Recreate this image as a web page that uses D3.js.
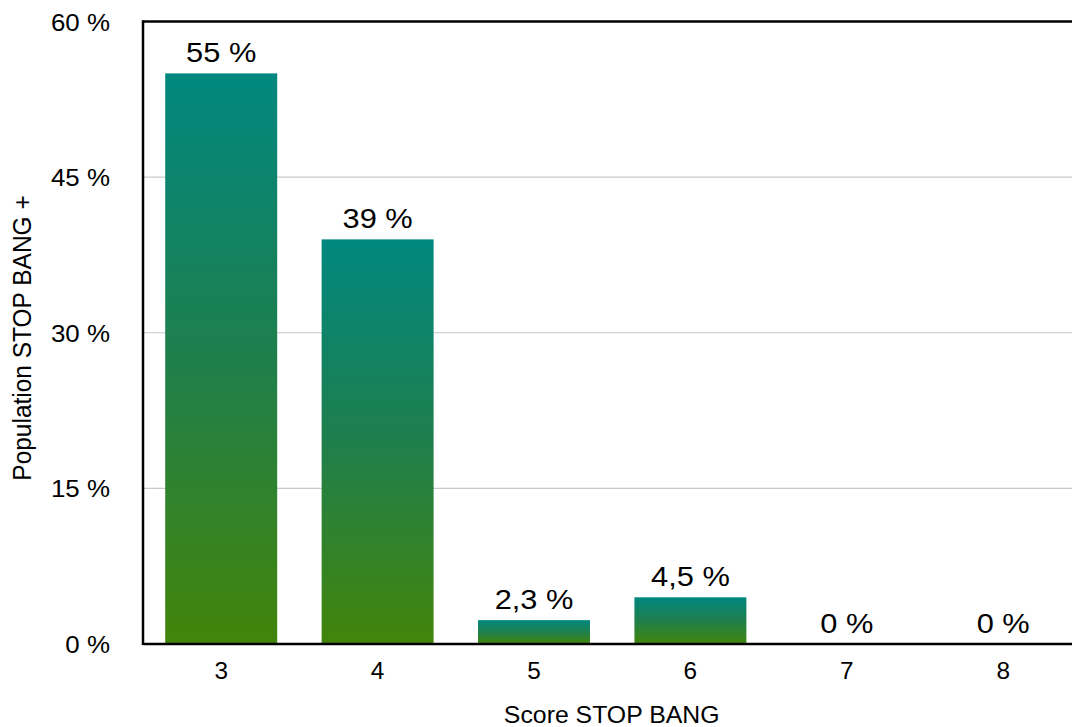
<!DOCTYPE html>
<html><head><meta charset="utf-8">
<script src="https://cdn.jsdelivr.net/npm/d3@7"></script>
<style>
html,body{margin:0;padding:0;background:#fff;}
svg{display:block;font-family:"Liberation Sans",Arial,Helvetica,sans-serif;}
</style></head>
<body>
<svg id="chart" width="1072" height="727"></svg>
<script>
const categories = ["3","4","5","6","7","8"];
const values = [55, 39, 2.3, 4.5, 0, 0];
const valueLabels = ["55 %","39 %","2,3 %","4,5 %","0 %","0 %"];
const yTicks = [0, 15, 30, 45, 60];
const yTickLabels = ["0 %","15 %","30 %","45 %","60 %"];
const xTitle = "Score STOP BANG";
const yTitle = "Population STOP BANG +";

(function(){
const svg = d3.select("#chart");
const pLeft = 143, pTop = 21.5, pBottom = 644, step = 156.4;
const pRight = pLeft + step * categories.length;

const x = d3.scaleBand().domain(categories).range([pLeft, pRight])
  .paddingInner(0.284).paddingOuter(0.142);
const y = d3.scaleLinear().domain([0, 60]).range([pBottom, pTop]);

const defs = svg.append("defs");
const grad = defs.append("linearGradient").attr("id","barGrad")
  .attr("x1",0).attr("y1",0).attr("x2",0).attr("y2",1);
grad.append("stop").attr("offset","0%").attr("stop-color","#00877f");
grad.append("stop").attr("offset","50%").attr("stop-color","#1f7f4c");
grad.append("stop").attr("offset","100%").attr("stop-color","#43850a");

// gridlines
svg.append("g").selectAll("line").data(yTicks.filter(t => t > 0 && t < 60)).join("line")
  .attr("x1", pLeft).attr("x2", pRight)
  .attr("y1", d => y(d)).attr("y2", d => y(d))
  .attr("stroke", "#c8c8c8").attr("stroke-width", 1.2);

// bars
svg.append("g").selectAll("rect").data(values).join("rect")
  .attr("x", (d,i) => x(categories[i]))
  .attr("width", x.bandwidth())
  .attr("y", d => y(d))
  .attr("height", d => pBottom - y(d))
  .attr("fill", "url(#barGrad)");

// frame
svg.append("line").attr("x1", pLeft).attr("x2", pRight).attr("y1", pTop).attr("y2", pTop)
  .attr("stroke","#000").attr("stroke-width",2.5);
svg.append("line").attr("x1", pLeft).attr("x2", pLeft).attr("y1", pTop - 1.2).attr("y2", pBottom + 1)
  .attr("stroke","#000").attr("stroke-width",2.5);
svg.append("line").attr("x1", pLeft).attr("x2", pRight).attr("y1", pBottom).attr("y2", pBottom)
  .attr("stroke","#000").attr("stroke-width",2.5);

// y tick labels
svg.append("g").selectAll("text").data(yTicks).join("text")
  .attr("transform", d => `translate(110,${y(d) + 9}) scale(1.08,1)`)
  .attr("text-anchor","end").attr("font-size", 24).attr("fill","#000")
  .text((d,i) => yTickLabels[i]);

// x tick labels
svg.append("g").selectAll("text").data(categories).join("text")
  .attr("transform", d => `translate(${x(d) + x.bandwidth()/2},679) scale(1.06,1)`)
  .attr("text-anchor","middle").attr("font-size", 23).attr("fill","#000")
  .text(d => d);

// value labels
svg.append("g").selectAll("text").data(values).join("text")
  .attr("transform", (d,i) => `translate(${x(categories[i]) + x.bandwidth()/2},${y(d) - 11}) scale(1.1,1)`)
  .attr("text-anchor","middle").attr("font-size", 28).attr("fill","#000")
  .text((d,i) => valueLabels[i]);

// axis titles
svg.append("text").attr("transform", `translate(${(pLeft + pRight)/2 - 0.5},723) scale(1.035,1)`)
  .attr("text-anchor","middle").attr("font-size", 24).attr("fill","#000").text(xTitle);
svg.append("text").attr("transform", "translate(31,338) rotate(-90) scale(1.02,1.05)")
  .attr("text-anchor","middle").attr("font-size", 24).attr("fill","#000").text(yTitle);
})();
</script>
</body></html>
